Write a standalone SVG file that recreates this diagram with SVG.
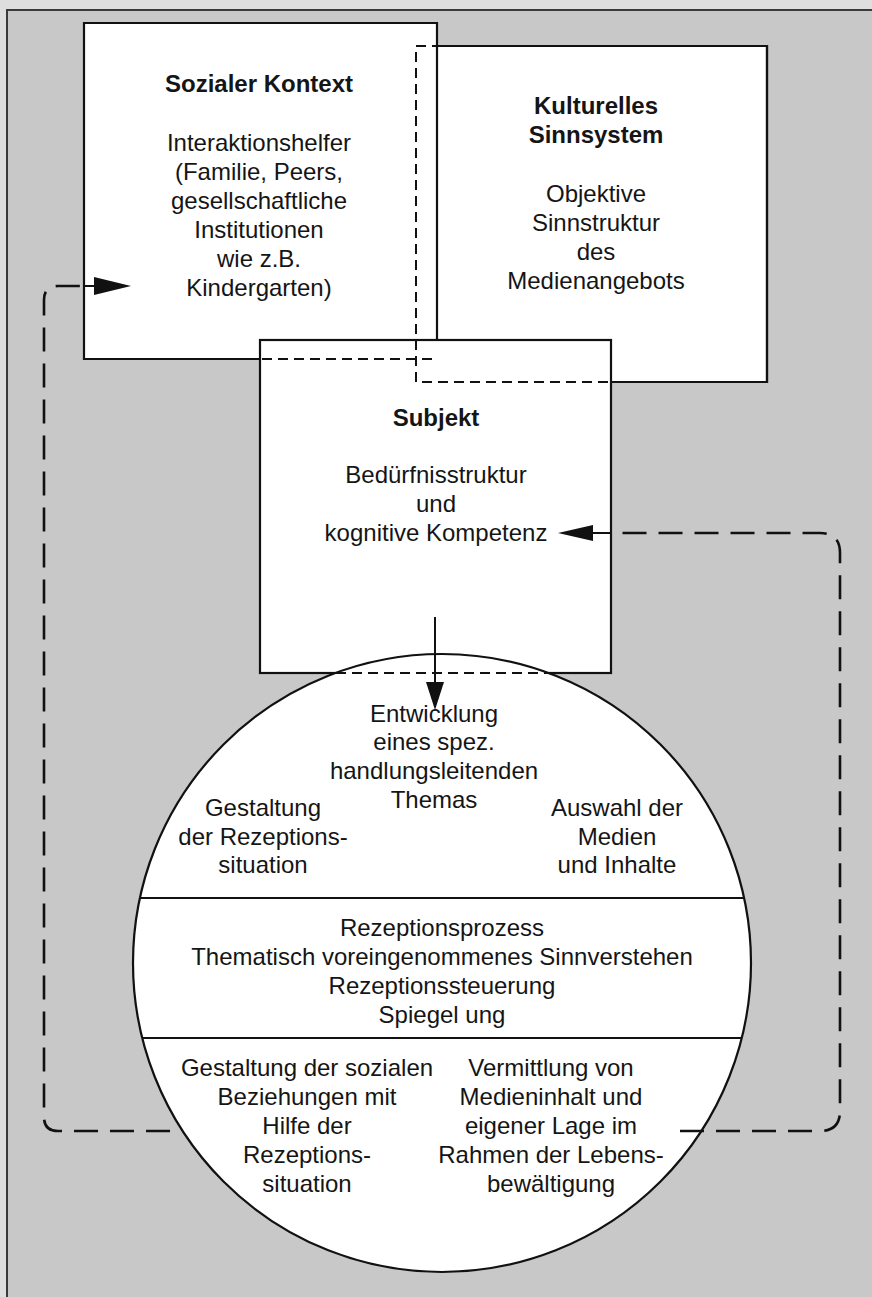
<svg xmlns="http://www.w3.org/2000/svg" width="872" height="1297" viewBox="0 0 872 1297">
<defs>
<style>
.box{fill:#ffffff;stroke:#111;stroke-width:2.2}
.edge{fill:none;stroke:#111;stroke-width:2.2}
.hid{fill:none;stroke:#111;stroke-width:2;stroke-dasharray:10 6}
.loop{fill:none;stroke:#111;stroke-width:2.6;stroke-dasharray:24 12}
.ln{fill:none;stroke:#111;stroke-width:2}
.ah{fill:#111;stroke:none}
text{font-family:"Liberation Sans",Arial,sans-serif;font-size:24px;fill:#151515;text-anchor:middle}
.b{font-weight:bold}
</style>
</defs>
<rect x="0" y="0" width="872" height="1297" fill="#dedede"/>
<rect x="7" y="10" width="880" height="1300" fill="#c8c8c8" stroke="#3a3a3a" stroke-width="2"/>

<g id="kulturelles">
<path class="box" d="M416,46 H767 V382 H416 Z" stroke="none"/>
<path class="edge" d="M437,46 H767 V382 H611"/>
<text class="b" x="596" y="114">Kulturelles</text>
<text class="b" x="596" y="143">Sinnsystem</text>
<text x="596" y="202">Objektive</text>
<text x="596" y="231">Sinnstruktur</text>
<text x="596" y="260">des</text>
<text x="596" y="289">Medienangebots</text>
</g>

<g id="sozialer">
<rect x="84" y="23" width="353" height="336" fill="#fff" stroke="none"/>
<path class="edge" d="M437,353 V23 H84 V359 H260"/>
<path class="hid" d="M416,46 H437"/>
<path class="hid" d="M416,52 V382"/>
<text class="b" x="259" y="92">Sozialer Kontext</text>
<text x="259" y="151">Interaktionshelfer</text>
<text x="259" y="180">(Familie, Peers,</text>
<text x="259" y="209">gesellschaftliche</text>
<text x="259" y="238">Institutionen</text>
<text x="259" y="267">wie z.B.</text>
<text x="259" y="296">Kindergarten)</text>
</g>

<g id="subjekt">
<rect class="box" x="260" y="340" width="351" height="333"/>
<path class="hid" d="M262,359 H437"/>
<path class="hid" d="M416,340 V382 H611"/>
<text class="b" x="436" y="426">Subjekt</text>
<text x="436" y="483">Bedürfnisstruktur</text>
<text x="436" y="512">und</text>
<text x="436" y="541">kognitive Kompetenz</text>
</g>

<g id="kreis">
<circle cx="442" cy="963" r="309" fill="#fff" stroke="#111" stroke-width="2.2"/>
<path class="hid" d="M336,673 H548"/>
<line class="ln" x1="140" y1="898" x2="744" y2="898"/>
<line class="ln" x1="142" y1="1038" x2="742" y2="1038"/>
<text x="434" y="722">Entwicklung</text>
<text x="434" y="750">eines spez.</text>
<text x="434" y="779">handlungsleitenden</text>
<text x="434" y="808">Themas</text>
<text x="263" y="816">Gestaltung</text>
<text x="263" y="845">der Rezeptions-</text>
<text x="263" y="873">situation</text>
<text x="617" y="816">Auswahl der</text>
<text x="617" y="845">Medien</text>
<text x="617" y="873">und Inhalte</text>
<text x="442" y="936">Rezeptionsprozess</text>
<text x="442" y="965">Thematisch voreingenommenes Sinnverstehen</text>
<text x="442" y="994">Rezeptionssteuerung</text>
<text x="442" y="1023">Spiegel ung</text>
<text x="307" y="1076">Gestaltung der sozialen</text>
<text x="307" y="1105">Beziehungen mit</text>
<text x="307" y="1134">Hilfe der</text>
<text x="307" y="1163">Rezeptions-</text>
<text x="307" y="1192">situation</text>
<text x="551" y="1076">Vermittlung von</text>
<text x="551" y="1105">Medieninhalt und</text>
<text x="551" y="1134">eigener Lage im</text>
<text x="551" y="1163">Rahmen der Lebens-</text>
<text x="551" y="1192">bewältigung</text>
</g>

<g id="connectors">
<line class="ln" x1="435" y1="617" x2="435" y2="684"/>
<polygon class="ah" points="426,682 444,682 435,710"/>
<path class="loop" d="M170,1131 H58 Q44,1131 44,1117 V300 Q44,286 58,286 H84"/>
<line class="ln" x1="84" y1="286" x2="96" y2="286"/>
<polygon class="ah" points="94,277 94,295 131,286"/>
<path class="loop" d="M680,1131 H820 Q840,1131 840,1111 V553 Q840,533 820,533 H612"/>
<line class="ln" x1="611" y1="533" x2="590" y2="533"/>
<polygon class="ah" points="593,525 593,541 558,533"/>
</g>
</svg>
